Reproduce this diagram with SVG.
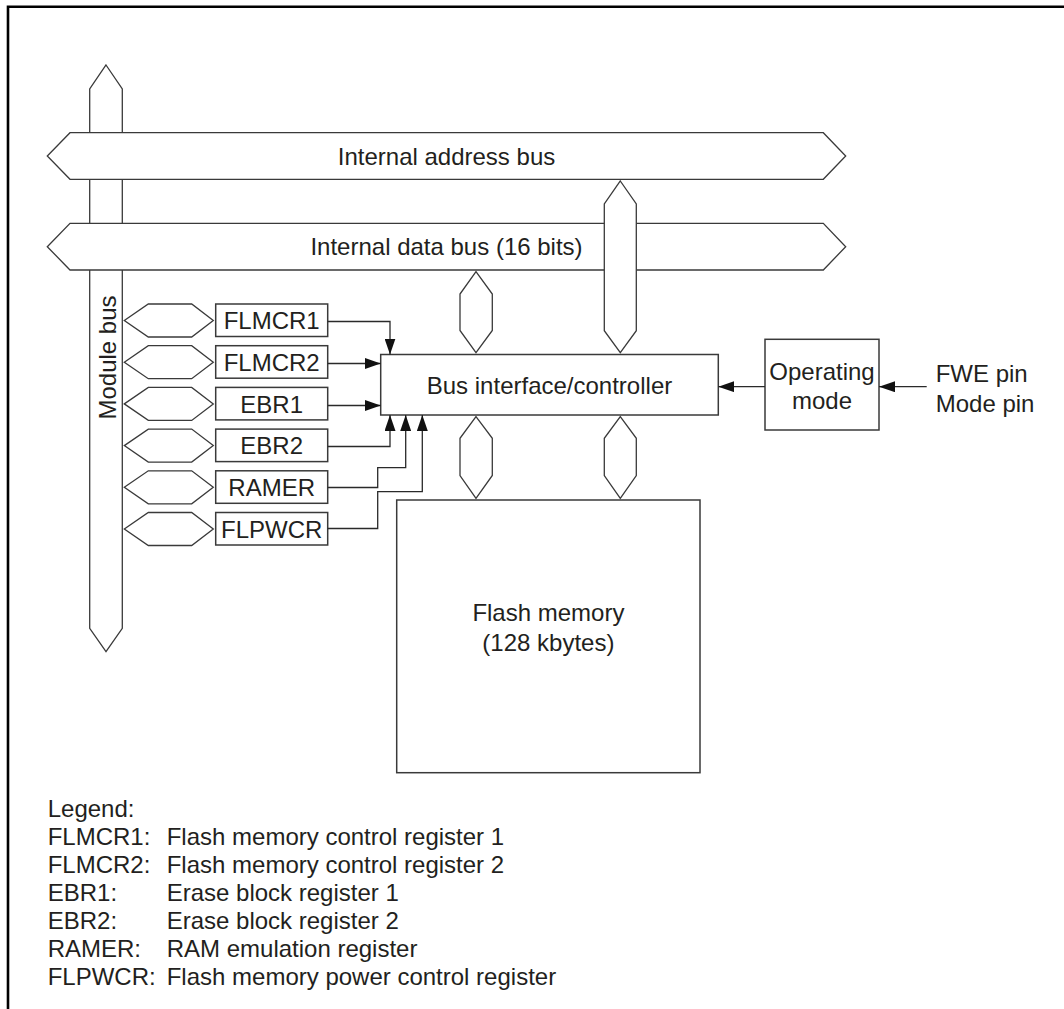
<svg xmlns="http://www.w3.org/2000/svg" width="1064" height="1009" viewBox="0 0 1064 1009">
<style>
  .bus { fill: #ffffff; stroke: #3a3a3a; stroke-width: 1.3; stroke-linejoin: miter; }
  .box { fill: #ffffff; stroke: #3a3a3a; stroke-width: 1.5; }
  .wire { fill: none; stroke: #2a2a2a; stroke-width: 1.3; }
  text { font-family: "Liberation Sans", Arial, sans-serif; font-size: 24px; fill: #231f20; }
  .c { text-anchor: middle; }
</style>
<defs>
  <marker id="arr" viewBox="0 0 16 11" refX="16" refY="5.5" markerWidth="16" markerHeight="11" markerUnits="userSpaceOnUse" orient="auto">
    <path d="M0,0 L16,5.5 L0,11 z" fill="#111111"/>
  </marker>
</defs>

<rect x="0" y="0" width="1064" height="1009" fill="#ffffff"/>

<!-- frame -->
<path d="M8,1009 V6.7 H1064" fill="none" stroke="#000000" stroke-width="2.6"/>

<!-- module bus (under horizontal buses) -->
<g id="module-bus">
  <polygon class="bus" points="106,65 122.3,89 122.3,628.3 106,651.7 89.7,628.3 89.7,89"/>
  <text transform="translate(115.5,357.5) rotate(-90)" class="c">Module bus</text>
</g>

<g id="address-bus">
  <polygon class="bus" points="47.3,156 70,132.7 823.3,132.7 845.7,156 823.3,179.3 70,179.3"/>
  <text x="446.5" y="164.6" class="c">Internal address bus</text>
</g>

<g id="data-bus">
  <polygon class="bus" points="47.3,246.7 70,223.3 823.3,223.3 845.7,246.7 823.3,270 70,270"/>
  <text x="446.5" y="255.3" class="c">Internal data bus (16 bits)</text>
</g>

<!-- bus links -->
<g id="bus-links">
  <polygon class="bus" points="620.3,181 636.3,204 636.3,330.7 620.3,352.7 604.3,330.7 604.3,204"/>
  <polygon class="bus" points="476,271.7 492.3,294 492.3,330.5 476,352.7 460,330.5 460,294"/>
  <polygon class="bus" points="476,416.7 492.3,438.3 492.3,475.5 476,498.3 460,475.5 460,438.3"/>
  <polygon class="bus" points="620.3,416.7 636.3,438.3 636.3,475.5 620.3,498.3 604.3,475.5 604.3,438.3"/>
</g>

<!-- registers -->
<g id="reg-flmcr1">
  <polygon class="bus" points="124.3,320.5 148.3,304 191.7,304 213.3,320.5 191.7,337 148.3,337"/>
  <rect class="box" x="215.7" y="304" width="112" height="32.5"/>
  <text x="271.7" y="329.1" class="c">FLMCR1</text>
</g>
<g id="reg-flmcr2">
  <polygon class="bus" points="124.3,362.2 148.3,345.7 191.7,345.7 213.3,362.2 191.7,378.7 148.3,378.7"/>
  <rect class="box" x="215.7" y="345.7" width="112" height="32.5"/>
  <text x="271.7" y="370.8" class="c">FLMCR2</text>
</g>
<g id="reg-ebr1">
  <polygon class="bus" points="124.3,403.9 148.3,387.4 191.7,387.4 213.3,403.9 191.7,420.4 148.3,420.4"/>
  <rect class="box" x="215.7" y="387.4" width="112" height="32.5"/>
  <text x="271.7" y="412.5" class="c">EBR1</text>
</g>
<g id="reg-ebr2">
  <polygon class="bus" points="124.3,445.6 148.3,429.1 191.7,429.1 213.3,445.6 191.7,462.1 148.3,462.1"/>
  <rect class="box" x="215.7" y="429.1" width="112" height="32.5"/>
  <text x="271.7" y="454.2" class="c">EBR2</text>
</g>
<g id="reg-ramer">
  <polygon class="bus" points="124.3,487.3 148.3,470.8 191.7,470.8 213.3,487.3 191.7,503.8 148.3,503.8"/>
  <rect class="box" x="215.7" y="470.8" width="112" height="32.5"/>
  <text x="271.7" y="495.9" class="c">RAMER</text>
</g>
<g id="reg-flpwcr">
  <polygon class="bus" points="124.3,529 148.3,512.5 191.7,512.5 213.3,529 191.7,545.5 148.3,545.5"/>
  <rect class="box" x="215.7" y="512.5" width="112" height="32.5"/>
  <text x="271.7" y="537.6" class="c">FLPWCR</text>
</g>

<g id="controller">
  <rect class="box" x="380.7" y="354.5" width="337.6" height="60.5"/>
  <text x="549.5" y="393.5" class="c">Bus interface/controller</text>
</g>

<g id="operating-mode">
  <rect class="box" x="765" y="339.3" width="114" height="90.7"/>
  <text x="822" y="380" class="c">Operating</text>
  <text x="822" y="409" class="c">mode</text>
</g>

<g id="pins">
  <text x="935.7" y="381.7">FWE pin</text>
  <text x="935.7" y="411.7">Mode pin</text>
</g>

<g id="flash">
  <rect class="box" x="396.7" y="500" width="303.3" height="272.7"/>
  <text x="548.4" y="621" class="c">Flash memory</text>
  <text x="548.4" y="651" class="c">(128 kbytes)</text>
</g>

<!-- connectors -->
<g id="connectors">
  <path class="wire" d="M327.7,321.5 H390 V354.5" marker-end="url(#arr)"/>
  <path class="wire" d="M327.7,363.5 H380.7" marker-end="url(#arr)"/>
  <path class="wire" d="M327.7,405.5 H380.7" marker-end="url(#arr)"/>
  <path class="wire" d="M327.7,446.5 H390 V415" marker-end="url(#arr)"/>
  <path class="wire" d="M327.7,487.5 H377.7 V467.7 H405.7 V415" marker-end="url(#arr)"/>
  <path class="wire" d="M327.7,528.5 H377.7 V491.7 H422.3 V415" marker-end="url(#arr)"/>
  <path class="wire" d="M765,386.7 H718.3" marker-end="url(#arr)"/>
  <path class="wire" d="M926.7,386.7 H879" marker-end="url(#arr)"/>
</g>

<g id="legend">
  <text x="47.7" y="817">Legend:</text>
  <text x="47.7" y="845">FLMCR1:</text><text x="166.7" y="845">Flash memory control register 1</text>
  <text x="47.7" y="873">FLMCR2:</text><text x="166.7" y="873">Flash memory control register 2</text>
  <text x="47.7" y="901">EBR1:</text><text x="166.7" y="901">Erase block register 1</text>
  <text x="47.7" y="929">EBR2:</text><text x="166.7" y="929">Erase block register 2</text>
  <text x="47.7" y="957">RAMER:</text><text x="166.7" y="957">RAM emulation register</text>
  <text x="47.7" y="985">FLPWCR:</text><text x="166.7" y="985">Flash memory power control register</text>
</g>
</svg>
